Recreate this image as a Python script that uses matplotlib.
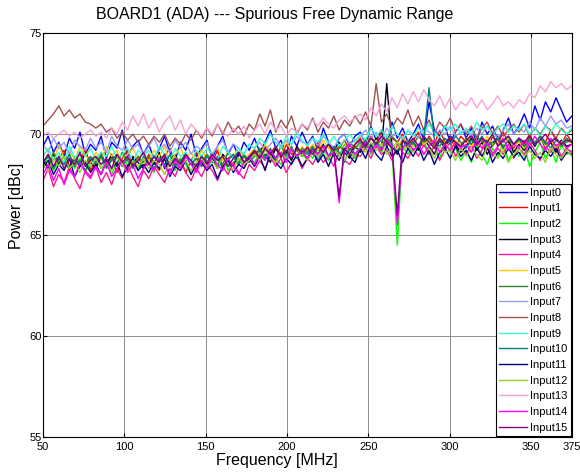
import numpy as np
import matplotlib
matplotlib.use("Agg")
import matplotlib.pyplot as plt

plt.rcParams['font.family'] = ['Liberation Sans', 'DejaVu Sans']

input0 = [69.4, 69.9, 69.1, 69.6, 68.9, 69.8, 69.3, 70.1, 69.0, 69.5,
          69.2, 69.9, 68.8, 69.6, 69.3, 70.2, 68.9, 69.4, 69.7, 69.0,
          69.5, 68.8, 69.3, 69.9, 69.1, 68.7, 69.6, 69.2, 70.0, 68.9,
          69.3, 69.7, 68.8, 69.4, 69.9, 69.0, 69.5, 68.9, 69.6, 69.2,
          69.8, 69.1, 69.6, 70.2, 69.3, 69.7, 69.0, 69.9, 69.4, 70.1,
          69.5, 69.9, 69.2, 70.3, 69.6, 69.1, 69.8, 70.0, 69.4, 69.9,
          70.1, 69.5, 70.4, 69.7, 70.2, 69.4, 70.6, 69.8, 70.3, 69.6,
          70.0, 70.5, 69.7, 71.6, 70.2, 69.9, 70.4, 69.6, 70.1, 70.5,
          69.8, 70.3, 69.6, 70.6, 70.0, 70.4, 69.7, 70.2, 70.8, 70.0,
          70.4, 71.0, 70.3, 71.4, 70.7, 71.6, 71.1, 71.8, 71.2, 70.6,
          70.9]
input1 = [68.5, 69.0, 68.3, 68.8, 69.2, 68.4, 68.9, 68.6, 69.3, 68.2,
          68.7, 69.1, 68.4, 68.9, 68.1, 68.8, 69.2, 68.5, 68.9, 68.3,
          69.0, 68.6, 68.2, 68.9, 69.3, 68.5, 68.8, 68.1, 68.7, 69.1,
          68.4, 68.9, 68.6, 69.2, 68.3, 68.8, 69.0, 68.5, 68.9, 68.6,
          69.1, 68.7, 69.4, 68.9, 69.3, 68.8, 69.5, 69.0, 69.2, 68.9,
          69.4, 69.0, 69.6, 69.1, 69.5, 68.9, 69.3, 69.7, 69.2, 69.5,
          69.8, 69.3, 69.9, 69.5, 70.1, 69.4, 69.8, 69.6, 70.0, 69.3,
          69.7, 70.1, 69.4, 69.9, 69.5, 70.2, 69.6, 69.8, 69.3, 69.9,
          69.6, 70.0, 69.4, 69.8, 69.2, 69.9, 69.5, 70.1, 69.6, 69.3,
          69.8, 69.5, 70.0, 69.4, 69.9, 69.6, 70.2, 69.7, 69.5, 70.0,
          69.6]
input2 = [68.4, 68.9, 68.2, 68.7, 68.5, 69.0, 68.3, 68.8, 68.1, 68.6,
          68.9, 68.3, 68.7, 68.0, 68.6, 69.1, 68.4, 68.8, 68.2, 68.7,
          68.5, 68.1, 68.9, 68.4, 68.7, 68.2, 68.8, 68.5, 68.0, 68.6,
          68.9, 68.3, 68.7, 68.5, 69.0, 68.2, 68.6, 68.8, 68.3, 68.9,
          68.6, 69.1, 68.7, 69.2, 68.8, 68.5, 69.0, 68.7, 69.3, 68.9,
          69.2, 68.8, 69.4, 69.0, 68.7, 69.3, 68.9, 69.5, 69.1, 68.8,
          69.3, 69.6, 69.0, 69.4, 69.1, 69.7, 69.2, 64.5, 69.4, 69.0,
          69.5, 69.2, 69.7, 69.0, 69.4, 68.8, 69.6, 69.1, 69.3, 68.7,
          69.2, 68.6, 69.4, 69.0, 68.5, 69.3, 68.9, 69.5, 68.7, 69.2,
          68.9, 69.4, 68.4, 69.1, 69.6, 68.8, 69.3, 68.6, 69.5, 69.0,
          69.2]
input3 = [68.7, 68.3, 69.0, 68.5, 68.9, 68.2, 68.8, 68.4, 69.1, 68.6,
          68.3, 68.9, 68.5, 69.0, 68.4, 68.7, 68.2, 68.9, 68.6, 68.3,
          68.8, 68.5, 69.1, 68.3, 68.7, 69.0, 68.4, 68.9, 68.6, 68.2,
          68.9, 68.5, 68.8, 68.3, 69.0, 68.7, 68.4, 69.1, 68.6, 68.8,
          69.2, 68.8, 69.0, 68.6, 69.3, 68.9, 69.1, 68.7, 69.4, 69.0,
          68.8, 69.3, 69.0, 69.5, 68.9, 69.2, 69.6, 69.1, 68.8, 69.4,
          69.1, 69.6, 69.3, 69.8, 69.2, 72.5, 69.4, 69.0, 69.7, 69.3,
          69.6, 69.2, 69.8, 69.4, 69.0, 69.7, 69.3, 69.9, 69.5, 69.1,
          69.4, 69.8, 69.2, 69.6, 69.0, 69.5, 69.9, 69.3, 69.7, 69.1,
          69.5, 69.2, 69.8, 69.4, 69.9, 69.3, 69.6, 69.1, 69.7, 69.4,
          69.5]
input4 = [67.7, 68.3, 67.4, 68.0, 67.6, 68.4, 67.8, 67.3, 68.2, 67.9,
          68.4, 67.6, 68.1, 67.5, 68.3, 67.8, 68.5, 67.9, 67.4, 68.2,
          67.8, 68.4, 68.0, 67.6, 68.3, 67.9, 68.6, 68.1, 67.7, 68.3,
          67.9, 68.5, 68.2, 67.7, 68.4, 68.0, 68.6, 68.1, 67.8, 68.5,
          68.2, 68.7, 68.3, 68.9, 68.4, 68.8, 68.1, 68.6, 68.9, 68.3,
          68.8, 68.5, 69.0, 68.6, 68.9, 68.4, 69.1, 68.7, 68.5, 69.0,
          68.9, 69.3, 68.8, 69.4, 69.0, 69.2, 68.7, 69.5, 69.1, 68.8,
          69.3, 68.9, 69.5, 69.0, 69.4, 68.7, 69.2, 69.6, 68.9, 69.3,
          69.0, 69.5, 68.8, 69.2, 69.6, 68.9, 69.3, 69.0, 69.5, 68.8,
          69.3, 69.0, 69.6, 69.2, 68.7, 69.4, 69.1, 69.5, 68.9, 69.3,
          69.1]
input5 = [68.9, 69.3, 68.6, 69.5, 68.8, 69.2, 68.7, 69.4, 69.0, 68.6,
          69.1, 68.7, 69.4, 68.9, 69.2, 68.5, 69.0, 69.3, 68.8, 69.1,
          68.7, 69.2, 68.9, 69.4, 68.6, 69.0, 69.3, 68.8, 69.1, 68.7,
          69.2, 68.8, 69.0, 69.4, 68.7, 69.1, 68.9, 69.3, 68.8, 69.0,
          69.3, 68.9, 69.5, 69.1, 69.4, 69.0, 69.6, 69.2, 68.9, 69.4,
          69.1, 69.5, 69.2, 69.7, 69.3, 69.0, 69.5, 69.2, 69.6, 69.3,
          69.5, 69.8, 69.3, 69.7, 69.4, 69.9, 69.5, 69.2, 69.8, 69.6,
          69.4, 69.9, 69.5, 69.7, 69.3, 69.8, 69.6, 69.2, 69.7, 69.5,
          69.8, 69.4, 69.7, 69.3, 69.9, 69.5, 69.6, 69.2, 69.8, 69.4,
          69.6, 69.3, 69.8, 69.5, 69.9, 69.4, 69.7, 69.3, 69.6, 69.8,
          69.5]
input6 = [68.8, 68.4, 69.1, 68.6, 68.9, 68.3, 68.7, 69.0, 68.5, 68.9,
          68.6, 69.0, 68.4, 68.8, 68.5, 69.1, 68.7, 68.3, 68.9, 68.6,
          68.9, 68.5, 68.7, 69.0, 68.4, 68.8, 68.6, 69.1, 68.5, 68.8,
          68.6, 69.0, 68.7, 68.9, 68.5, 69.1, 68.8, 68.6, 69.0, 68.7,
          69.0, 69.3, 68.9, 69.2, 68.8, 69.4, 69.0, 69.2, 68.9, 69.3,
          69.1, 69.4, 69.0, 69.3, 69.5, 69.1, 69.4, 69.2, 69.6, 69.3,
          69.6, 69.3, 69.8, 69.5, 69.7, 69.4, 69.9, 69.6, 69.3, 69.7,
          69.5, 69.9, 69.6, 69.8, 69.4, 69.7, 69.5, 69.9, 69.6, 69.4,
          69.8, 69.5, 69.9, 69.6, 69.7, 69.4, 69.8, 69.6, 69.9, 69.5,
          69.7, 69.4, 69.8, 69.6, 69.9, 69.5, 69.7, 69.8, 69.4, 69.6,
          69.7]
input7 = [69.5, 69.1, 69.8, 69.3, 69.6, 69.0, 69.7, 69.4, 69.2, 69.8,
          69.3, 69.6, 69.1, 69.9, 69.4, 69.2, 69.7, 69.3, 69.5, 69.0,
          69.4, 69.8, 69.2, 69.5, 69.1, 69.7, 69.3, 69.6, 69.0, 69.4,
          69.2, 69.6, 69.0, 69.4, 69.7, 69.1, 69.5, 69.3, 69.0, 69.5,
          69.3, 69.6, 69.2, 69.5, 69.8, 69.4, 69.7, 69.5, 69.9, 69.6,
          69.5, 69.8, 69.4, 69.9, 69.6, 69.3, 69.8, 70.0, 69.5, 69.7,
          69.9, 70.2, 69.8, 70.1, 69.7, 70.3, 69.9, 70.0, 69.8, 70.2,
          70.0, 69.8, 70.3, 70.1, 69.9, 70.2, 70.0, 70.4, 69.9, 70.1,
          70.2, 69.9, 70.3, 70.0, 70.4, 70.1, 69.8, 70.2, 70.5, 70.0,
          70.3, 70.1, 70.6, 70.2, 70.8, 70.4, 70.9, 70.5, 70.7, 70.3,
          70.4]
input8 = [70.4, 70.7, 71.0, 71.4, 70.9, 71.2, 70.8, 71.0, 70.6, 70.5,
          70.3, 70.5, 70.1, 70.3, 69.8, 70.1, 69.7, 70.0, 69.6, 69.9,
          69.5, 69.9, 69.6, 70.0, 69.4, 69.8, 69.5, 70.0, 69.7, 70.2,
          69.8, 70.3, 69.9, 70.5, 70.0, 70.6, 70.1, 70.4, 69.9, 70.5,
          70.2, 71.0, 70.4, 71.2, 70.1, 70.7, 70.3, 70.9, 70.0, 70.5,
          70.2, 70.8, 70.1, 70.6, 70.3, 70.9, 70.2, 70.7, 70.4, 70.9,
          70.5, 71.1, 70.4, 72.5, 70.6, 71.0, 70.3, 70.8, 70.5, 71.2,
          70.4, 70.9, 70.2, 70.7, 70.0, 70.6, 70.3, 70.8, 70.1, 70.5,
          70.0, 70.4, 69.8, 70.3, 70.6, 70.0, 70.4, 69.9, 70.2, 70.5,
          70.1, 70.5, 69.9, 70.3, 70.0, 70.4, 70.2, 69.8, 70.3, 70.0,
          70.2]
input9 = [68.9, 69.3, 68.7, 69.1, 68.6, 69.4, 68.8, 69.2, 68.9, 69.3,
          68.7, 69.1, 68.9, 69.4, 68.8, 69.0, 69.3, 68.6, 69.2, 68.9,
          69.2, 68.8, 69.4, 69.0, 68.7, 69.3, 68.9, 69.1, 68.6, 69.2,
          68.9, 69.3, 69.0, 68.7, 69.4, 69.1, 68.8, 69.3, 69.0, 69.5,
          69.3, 69.8, 69.5, 70.0, 69.6, 69.3, 69.9, 69.5, 70.1, 69.7,
          69.4, 69.8, 69.6, 70.0, 69.5, 69.9, 69.4, 69.7, 70.0, 69.6,
          70.0, 69.7, 70.3, 69.9, 70.2, 69.8, 70.4, 70.0, 69.7, 70.2,
          69.9, 70.3, 70.0, 70.5, 70.1, 69.8, 70.4, 70.2, 70.5, 70.0,
          70.3, 70.0, 70.6, 70.2, 70.4, 69.9, 70.3, 70.5, 70.1, 70.4,
          70.2, 70.5, 70.0, 70.3, 69.9, 70.4, 70.1, 70.5, 70.2, 70.0,
          70.3]
input10 = [68.6, 68.9, 68.3, 68.8, 68.5, 69.0, 68.4, 68.7, 68.2, 68.8,
           68.5, 68.9, 68.3, 68.7, 69.0, 68.4, 68.8, 68.6, 68.2, 68.9,
           68.6, 68.3, 68.8, 68.5, 69.0, 68.4, 68.7, 68.9, 68.5, 68.8,
           68.4, 68.9, 68.6, 68.8, 68.3, 68.7, 69.0, 68.5, 68.9, 68.6,
           68.9, 69.2, 68.8, 69.3, 68.7, 69.1, 68.9, 69.4, 68.8, 69.2,
           69.0, 69.3, 68.7, 69.2, 68.9, 69.4, 69.1, 68.6, 69.3, 69.0,
           69.4, 69.7, 69.2, 69.6, 69.3, 69.8, 69.5, 69.1, 69.7, 69.4,
           69.6, 69.3, 69.8, 72.3, 69.7, 69.4, 69.8, 69.5, 69.9, 69.6,
           69.3, 69.7, 69.5, 69.9, 69.4, 69.6, 69.8, 69.3, 69.7, 69.5,
           69.8, 69.4, 69.7, 69.5, 69.9, 69.6, 69.3, 69.7, 69.5, 69.8,
           69.6]
input11 = [68.3, 68.7, 68.0, 68.5, 68.2, 68.8, 67.9, 68.4, 68.6, 68.1,
           68.5, 68.0, 68.7, 68.3, 68.6, 67.9, 68.4, 68.8, 68.2, 68.5,
           68.1, 68.6, 68.3, 68.8, 67.9, 68.4, 68.2, 68.7, 68.0, 68.5,
           68.6, 68.2, 68.5, 67.8, 68.4, 68.7, 68.1, 68.5, 68.3, 68.8,
           68.4, 68.9, 68.2, 69.1, 68.6, 68.3, 68.8, 68.5, 69.0, 68.4,
           68.8, 69.2, 68.6, 69.0, 68.4, 69.1, 68.7, 69.3, 68.9, 68.6,
           69.3, 68.8, 69.5, 69.0, 68.7, 69.4, 68.9, 69.2, 68.6, 69.3,
           68.9, 69.4, 68.7, 69.2, 68.5, 69.1, 69.3, 68.8, 69.4, 68.9,
           69.2, 68.7, 69.3, 68.9, 69.4, 68.6, 69.1, 68.8, 69.3, 68.9,
           69.1, 68.7, 69.4, 69.0, 68.8, 69.2, 68.9, 69.3, 68.7, 69.1,
           69.0]
input12 = [68.5, 68.2, 68.8, 68.4, 68.9, 68.3, 68.6, 68.1, 68.7, 68.4,
           68.8, 68.3, 68.6, 68.2, 68.9, 68.5, 68.1, 68.7, 68.4, 68.8,
           68.3, 68.7, 68.5, 68.0, 68.6, 68.9, 68.4, 68.7, 68.2, 68.6,
           68.8, 68.4, 68.7, 68.3, 68.9, 68.5, 68.2, 68.8, 68.5, 68.7,
           69.0, 68.7, 69.2, 68.9, 68.6, 69.1, 68.8, 69.3, 68.9, 69.0,
           68.7, 69.1, 68.9, 69.3, 68.8, 69.2, 69.0, 68.7, 69.1, 68.9,
           69.4, 69.1, 69.6, 69.2, 69.5, 69.0, 69.3, 69.6, 69.2, 69.4,
           69.1, 69.5, 69.0, 69.3, 68.8, 69.4, 69.1, 69.2, 68.7, 69.3,
           68.9, 69.3, 69.0, 68.7, 69.4, 69.1, 68.8, 69.2, 68.6, 69.0,
           69.3, 68.9, 69.2, 68.8, 69.1, 68.6, 69.3, 69.0, 68.8, 69.2,
           68.9]
input13 = [69.9, 70.1, 69.8, 70.0, 70.2, 69.9, 70.1, 69.8, 70.0, 70.2,
           69.9, 70.1, 69.8, 70.3, 70.0, 70.6, 70.2, 70.9, 70.4, 71.0,
           70.3, 70.8, 70.1, 70.6, 70.9, 70.2, 70.7, 70.0, 70.5, 70.2,
           69.9, 70.3, 70.0, 70.5, 70.1, 69.9, 70.3, 70.0, 70.4, 69.8,
           70.2, 70.5, 70.0, 70.6, 70.2, 70.4, 69.9, 70.3, 70.1, 70.5,
           70.3, 70.7, 70.4, 70.8, 70.5, 70.3, 70.7, 70.9, 70.6, 70.8,
           71.0, 70.7, 71.3, 70.9, 71.5, 71.1, 71.8, 71.3, 72.0, 71.5,
           72.1, 71.6, 72.2, 71.7, 71.4, 71.9, 71.3, 71.8, 71.2, 71.6,
           71.4, 71.8, 71.3, 71.7, 71.2, 71.5, 71.9, 71.4, 71.6, 71.3,
           71.7, 71.5, 72.0, 71.8, 72.4, 72.1, 72.6, 72.3, 72.5, 72.2,
           72.4]
input14 = [68.0, 68.5, 67.7, 68.3, 67.5, 68.2, 67.9, 68.6, 68.1, 67.8,
           68.4, 68.0, 68.6, 67.9, 68.3, 68.7, 68.1, 68.5, 67.8, 68.3,
           68.6, 68.2, 68.8, 68.4, 68.0, 68.7, 68.3, 68.9, 68.5, 68.1,
           68.7, 68.3, 68.9, 68.5, 68.2, 68.8, 68.4, 68.0, 68.6, 68.9,
           68.5, 69.0, 68.7, 69.2, 68.8, 69.1, 68.6, 69.3, 68.9, 69.2,
           68.8, 69.2, 69.0, 69.4, 68.9, 69.1, 66.6, 69.2, 69.5, 69.0,
           69.3, 69.6, 69.1, 69.5, 69.2, 69.7, 69.4, 65.5, 69.3, 69.6,
           69.2, 69.5, 69.0, 69.4, 69.7, 69.1, 69.5, 69.2, 69.6, 69.3,
           69.5, 69.1, 69.7, 69.3, 69.6, 69.0, 69.4, 69.8, 69.2, 69.5,
           69.3, 69.7, 69.4, 69.9, 69.5, 69.2, 69.8, 69.4, 69.6, 69.3,
           69.5]
input15 = [68.6, 69.0, 68.4, 68.9, 68.3, 68.8, 68.5, 69.1, 68.4, 68.7,
           68.9, 68.5, 68.8, 68.3, 69.0, 68.6, 68.9, 68.4, 68.7, 69.1,
           68.5, 68.9, 68.6, 69.0, 68.4, 68.8, 68.5, 69.0, 68.7, 68.4,
           68.9, 68.6, 69.0, 68.7, 68.9, 68.4, 68.8, 69.1, 68.6, 68.9,
           69.2, 68.8, 69.3, 69.0, 69.4, 68.9, 69.2, 68.8, 69.3, 69.1,
           69.3, 69.0, 69.4, 69.1, 69.5, 69.2, 66.9, 69.3, 69.0, 69.5,
           69.7, 69.4, 69.8, 69.5, 69.9, 69.6, 69.3, 66.0, 69.7, 69.5,
           69.8, 69.4, 69.9, 69.6, 69.3, 69.8, 69.5, 69.9, 69.6, 69.4,
           69.7, 69.9, 69.5, 69.8, 69.6, 70.0, 69.4, 69.7, 69.9, 69.5,
           69.8, 69.6, 69.9, 69.5, 69.7, 70.0, 69.6, 69.8, 69.5, 69.7,
           69.6]

series = [input0, input1, input2, input3, input4, input5, input6, input7,
          input8, input9, input10, input11, input12, input13, input14, input15]
labels = ['Input%d' % i for i in range(16)]
colors = ['#0000ff', '#ff0000', '#00ff00', '#000020', '#ff1493', '#ffcc00',
          '#338033', '#9999ff', '#a0524d', '#33ffcc', '#008080', '#000080',
          '#9acd32', '#f5a3d6', '#ff00ff', '#800080']

fig = plt.figure(figsize=(5.8, 4.74), dpi=100)
ax = fig.add_axes([0.074, 0.078, 0.912, 0.852])

for vals, lab, c in zip(series, labels, colors):
    freq = np.linspace(50, 375, len(vals))
    ax.plot(freq, vals, color=c, lw=1.0, label=lab)

ax.set_xlim(50, 375)
ax.set_ylim(55, 75)
ax.set_xticks([50, 100, 150, 200, 250, 300, 350, 375])
ax.set_yticks([55, 60, 65, 70, 75])
ax.grid(True, color='#8c8c8c', lw=0.7)
ax.set_axisbelow(True)
ax.tick_params(direction='in', top=True, right=True, labelsize=8, length=3)
ax.tick_params(axis='y', pad=1)
for s in ax.spines.values():
    s.set_linewidth(0.8)

# labels sit left of the axes centre in the original
fig.text(275 / 580, 1 - 15 / 474, 'BOARD1 (ADA) --- Spurious Free Dynamic Range',
         fontsize=11.5, ha='center', va='center')
fig.text(277 / 580, 1 - 461 / 474, 'Frequency [MHz]', fontsize=11.5,
         ha='center', va='center')
fig.text(17 / 580, 1 - 206 / 474, 'Power [dBc]', fontsize=11.5,
         ha='center', va='center', rotation=90)

leg = ax.legend(loc='lower right', fontsize=8, borderaxespad=0.1,
                handlelength=2.5, handletextpad=0.3, labelspacing=0.51,
                borderpad=0.3, fancybox=False, framealpha=1)
leg.get_frame().set_edgecolor('black')
leg.get_frame().set_linewidth(0.8)

fig.savefig('out.png', dpi=100)
